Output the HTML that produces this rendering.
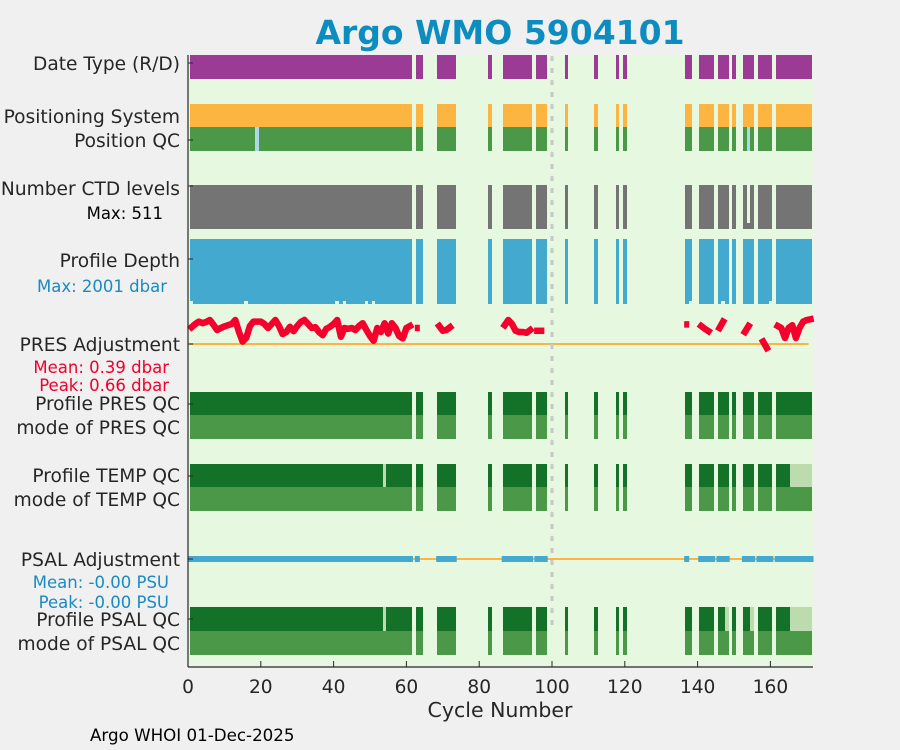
<!DOCTYPE html>
<html><head><meta charset="utf-8"><style>
html,body{margin:0;padding:0;background:#f0f0f0;}
svg{display:block;font-family:"DejaVu Sans","Liberation Sans",sans-serif;}
</style></head><body>
<svg id="chart" width="900" height="750" viewBox="0 0 900 750">
<rect x="0" y="0" width="900" height="750" fill="#f0f0f0"/>
<text x="500" y="44" text-anchor="middle" font-size="33" font-weight="bold" fill="#0d8dbf">Argo WMO 5904101</text>
<rect x="188" y="55" width="625" height="612" fill="#e6f8e0"/>
<g id="marks" shape-rendering="crispEdges"></g>
<g id="lines"></g>
<g id="labels" font-size="18.6" fill="#262626" text-anchor="end">
<text x="180" y="70">Date Type (R/D)</text>
<text x="180" y="123">Positioning System</text>
<text x="180" y="147">Position QC</text>
<text x="180" y="195">Number CTD levels</text>
<text x="163" y="219" font-size="16.5" fill="#000">Max: 511</text>
<text x="180" y="267">Profile Depth</text>
<text x="167" y="292" font-size="16.5" fill="#1a8ac0">Max: 2001 dbar</text>
<text x="180" y="351">PRES Adjustment</text>
<text x="169" y="373" font-size="16.5" fill="#f0002c">Mean: 0.39 dbar</text>
<text x="169" y="391" font-size="16.5" fill="#f0002c">Peak: 0.66 dbar</text>
<text x="180" y="410">Profile PRES QC</text>
<text x="180" y="434">mode of PRES QC</text>
<text x="180" y="482">Profile TEMP QC</text>
<text x="180" y="506">mode of TEMP QC</text>
<text x="180" y="566">PSAL Adjustment</text>
<text x="169" y="588" font-size="16.5" fill="#1a8ac0">Mean: -0.00 PSU</text>
<text x="169" y="608" font-size="16.5" fill="#1a8ac0">Peak: -0.00 PSU</text>
<text x="180" y="626">Profile PSAL QC</text>
<text x="180" y="650">mode of PSAL QC</text>
</g>
<g id="axes"></g>
<text x="500" y="717" text-anchor="middle" font-size="20.5" fill="#262626">Cycle Number</text>
<text x="90" y="741" font-size="16.7" fill="#000">Argo WHOI 01-Dec-2025</text>
</svg>
<script>
const cycles=[1,2,3,4,5,6,7,8,9,10,11,12,13,14,15,16,17,18,19,20,21,22,23,24,25,26,27,28,29,30,31,32,33,34,35,36,37,38,39,40,41,42,43,44,45,46,47,48,49,50,51,52,53,54,55,56,57,58,59,60,61,63,64,69,70,71,72,73,83,87,88,89,90,91,92,93,94,96,97,98,104,112,118,120,137,138,141,142,143,144,146,147,148,150,153,154,155,157,158,159,160,162,163,164,165,166,167,168,169,170,171];
const positionQcBadCycles=[19,154];
const ctdLowCycles=[154];
const ctdLowLevels=[70];
const ctdMaxLevels=511;
const depthShortCycles=[1,16,41,43,49,51,138,147,160];
const depthShortValues=[1910,1910,1910,1910,1910,1910,1910,1910,1910];
const depthMax=2001;
const tempQcProbableCycles=[54,166,167,168,169,170,171];
const psalQcProbableCycles=[54,148,155,166,167,168,169,170,171];
const presAdjCycles=[1,2,3,4,5,6,7,8,9,10,11,12,13,14,15,16,17,18,19,20,21,22,23,24,25,26,27,28,29,30,31,32,33,34,35,36,37,38,39,40,41,42,43,44,45,46,47,48,49,50,51,52,53,54,55,56,57,58,59,60,61,63,69,70,71,72,87,88,89,90,91,92,93,94,96,97,137,141,142,143,146,147,153,154,158,159,162,163,164,165,166,167,168,169,170,171];
const presAdjValues=[0.42,0.5,0.56,0.52,0.55,0.6,0.48,0.35,0.4,0.44,0.47,0.5,0.6,0.3,0.06,0.15,0.45,0.56,0.56,0.56,0.5,0.4,0.5,0.6,0.45,0.25,0.3,0.43,0.32,0.45,0.55,0.6,0.5,0.4,0.42,0.3,0.22,0.38,0.43,0.5,0.6,0.18,0.4,0.38,0.4,0.35,0.45,0.52,0.35,0.2,0.08,0.4,0.3,0.52,0.26,0.52,0.4,0.2,0.14,0.4,0.45,0.4,0.45,0.33,0.35,0.42,0.47,0.6,0.5,0.33,0.3,0.3,0.28,0.35,0.33,0.33,0.49,0.45,0.38,0.32,0.4,0.56,0.3,0.45,0.06,-0.1,0.45,0.4,0.15,0.4,0.47,0.15,0.4,0.56,0.6,0.62];
const psalAdjCycles=[1,2,3,4,5,6,7,8,9,10,11,12,13,14,15,16,17,18,19,20,21,22,23,24,25,26,27,28,29,30,31,32,33,34,35,36,37,38,39,40,41,42,43,44,45,46,47,48,49,50,51,52,53,54,55,56,57,58,59,60,61,63,69,70,71,72,73,87,88,89,90,91,92,93,94,96,97,98,137,141,142,143,144,146,147,148,153,154,155,157,158,159,160,162,163,164,165,166,167,168,169,170,171];
const psalAdjValues=psalAdjCycles.map(()=>0.0);
const xTicks=[0,20,40,60,80,100,120,140,160];
const xDomain=[0,171.7];

const NS='http://www.w3.org/2000/svg';
const X0=188,X1=813;
function xs(v){return X0+(v-xDomain[0])/(xDomain[1]-xDomain[0])*(X1-X0);}
const W=xs(1)-xs(0);
const marks=document.getElementById('marks');
const lines=document.getElementById('lines');
const axes=document.getElementById('axes');
function mk(tag,attrs,parent){const e=document.createElementNS(NS,tag);for(const k in attrs)e.setAttribute(k,attrs[k]);(parent||marks).appendChild(e);return e;}
function bar(c,y,h,fill,name){
  const x0=Math.round(xs(c-0.5)),x1=Math.round(xs(c+0.5));
  const r=mk('rect',{x:x0,y:y,width:Math.max(1,x1-x0),height:h,fill:fill});
  
  
  return r;
}
const PURPLE='#9b3b95',ORANGE='#fdb541',GREEN='#4a9848',DKGREEN='#147228',LTGREEN='#bcdcb0',GREY='#747474',BLUE='#43a9cf',LTBLUE='#add8e6';
cycles.forEach(c=>{
  bar(c,55,24,PURPLE,'date-type-bar');
  bar(c,104,23,ORANGE,'positioning-system-bar');
  bar(c,127,24,positionQcBadCycles.includes(c)?LTBLUE:GREEN,'position-qc-bar');
  let lev=ctdMaxLevels;const li=ctdLowCycles.indexOf(c);if(li>=0)lev=ctdLowLevels[li];
  const hC=Math.round(44*lev/ctdMaxLevels);
  bar(c,229-hC,hC,GREY,'ctd-levels-bar');
  let d=depthMax;const di=depthShortCycles.indexOf(c);if(di>=0)d=depthShortValues[di];
  bar(c,239,Math.round(65*d/depthMax),BLUE,'profile-depth-bar');
  bar(c,392,23,DKGREEN,'profile-pres-qc-bar');
  bar(c,415,24,GREEN,'mode-pres-qc-bar');
  bar(c,464,23,tempQcProbableCycles.includes(c)?LTGREEN:DKGREEN,'profile-temp-qc-bar');
  bar(c,487,24,GREEN,'mode-temp-qc-bar');
  bar(c,607,24,psalQcProbableCycles.includes(c)?LTGREEN:DKGREEN,'profile-psal-qc-bar');
  bar(c,631,24,GREEN,'mode-psal-qc-bar');
});
let z1=mk('line',{x1:xs(0.5),x2:xs(170.5),y1:344,y2:344,stroke:'#fdb541','stroke-width':2},lines);


let z2=mk('line',{x1:xs(0.5),x2:xs(170.5),y1:559,y2:559,stroke:'#fdb541','stroke-width':2},lines);


function series(cs,vs,y0,scale,color,sw,name){
  let seg=[];
  const flush=()=>{
    if(!seg.length)return;
    if(seg.length===1){const p=seg[0];
      const r=mk('rect',{x:p[0]-2.5,y:p[1]-sw/2,width:5,height:sw,fill:color},lines);
      
      
    } else {
      const pl=mk('polyline',{points:seg.map(p=>p[0].toFixed(1)+','+p[1].toFixed(1)).join(' '),fill:'none',stroke:color,'stroke-width':sw,'stroke-linejoin':'round','stroke-linecap':'square'},lines);
      
      
    }
    seg=[];
  };
  cs.forEach((c,i)=>{
    if(i>0&&c!==cs[i-1]+1)flush();
    seg.push([xs(c),y0-vs[i]*scale]);
  });
  flush();
}
series(presAdjCycles,presAdjValues,344,40,'#f5002c',6.5,'pres-adjustment');
series(psalAdjCycles,psalAdjValues,559,40,'#43a9cf',6,'psal-adjustment');
let dl=mk('line',{x1:xs(100),x2:xs(100),y1:56,y2:630,stroke:'#c8c8c8','stroke-width':3,'stroke-dasharray':'5,7'},lines);


let ya=mk('line',{x1:188,x2:188,y1:55,y2:667,stroke:'#262626','stroke-width':1.2},axes);


let xa=mk('line',{x1:188,x2:813,y1:667,y2:667,stroke:'#262626','stroke-width':1.2},axes);


[63,140,186,259,344,404,476,559,619].forEach(y=>{
  const t=mk('line',{x1:188,x2:193,y1:y,y2:y,stroke:'#262626','stroke-width':1},axes);
  
  
});
xTicks.forEach(v=>{
  const t=mk('line',{x1:xs(v),x2:xs(v),y1:667,y2:661,stroke:'#262626','stroke-width':1},axes);
  
  
  const l=mk('text',{x:xs(v),y:693,'text-anchor':'middle','font-size':18.6,fill:'#262626'},axes);
  l.textContent=v;
  
  
});
</script>
</body></html>
